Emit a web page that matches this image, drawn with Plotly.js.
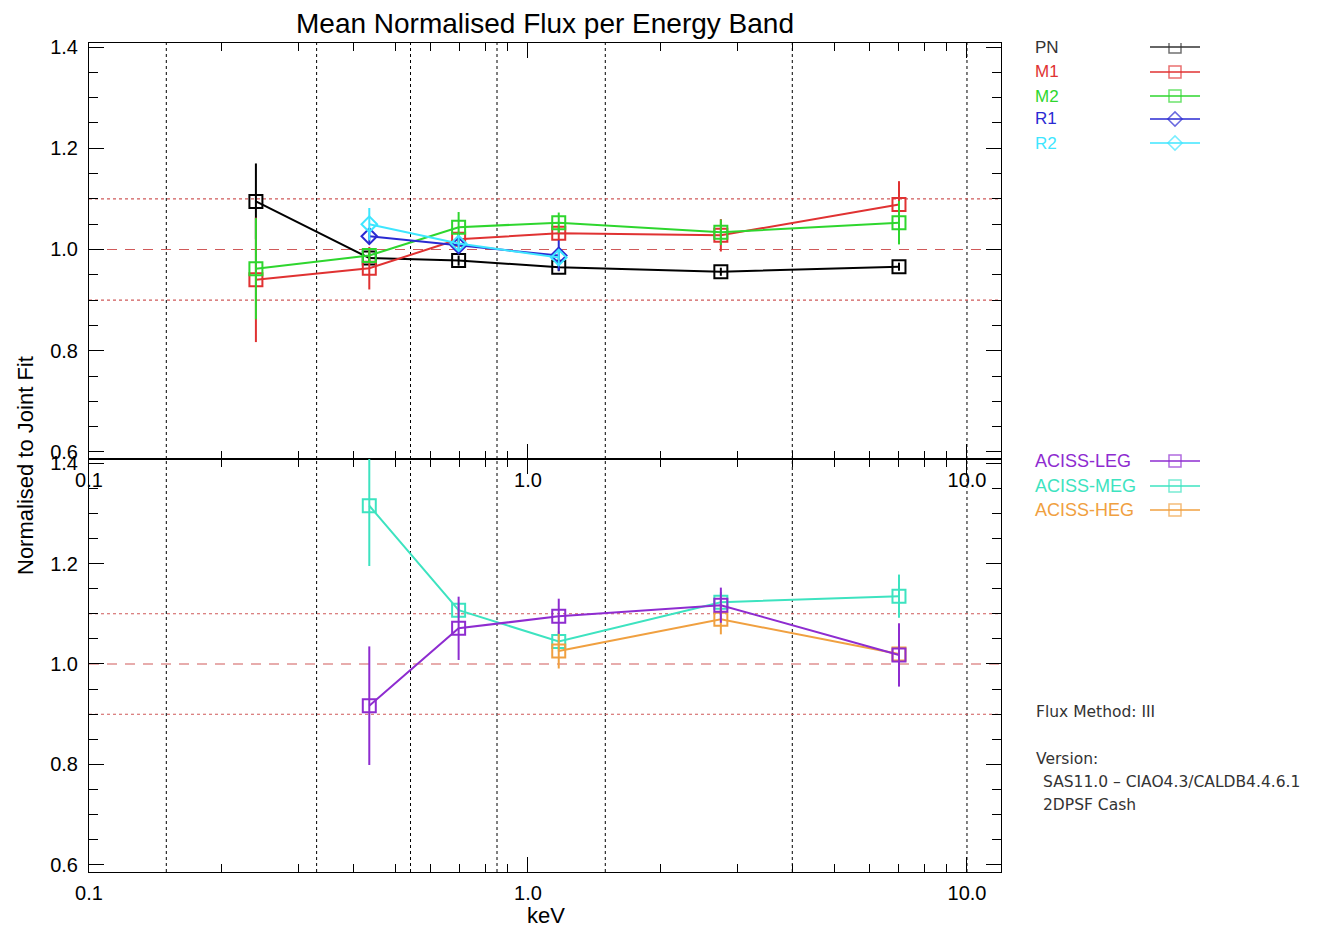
<!DOCTYPE html>
<html><head><meta charset="utf-8">
<script src="https://cdn.plot.ly/plotly-3.0.1.min.js"></script>
<style>body{margin:0;background:#fff}#chart{width:1328px;height:928px}</style>
</head><body><div id="chart"></div>
<script>
// ---- data ----
const energy = [0.24, 0.435, 0.695, 1.175, 2.75, 7.0];
const bandEdges = [0.15, 0.33, 0.54, 0.85, 1.5, 4.0, 10.0];

const pnFlux = [1.095, 0.983, 0.978, 0.965, 0.956, 0.966];
const pnErr  = [0.075, 0.010, 0.010, 0.008, 0.008, 0.008];
const m1Flux = [0.940, 0.963, 1.020, 1.032, 1.028, 1.089];
const m1Err  = [0.123, 0.042, 0.015, 0.015, 0.032, 0.046];
const m2Flux = [0.962, 0.988, 1.044, 1.053, 1.034, 1.053];
const m2Err  = [0.100, 0.015, 0.030, 0.020, 0.025, 0.043];
const rgsEnergy = [0.435, 0.695, 1.175];
const r1Flux = [1.026, 1.008, 0.988];
const r1Err  = [0.015, 0.010, 0.030];
const r2Flux = [1.050, 1.012, 0.984];
const r2Err  = [0.032, 0.015, 0.015];

const acisEnergy = [0.435, 0.695, 1.175, 2.75, 7.0];
const legFlux = [0.917, 1.071, 1.095, 1.117, 1.018];
const legErr  = [0.118, 0.063, 0.035, 0.035, 0.063];
const megFlux = [1.315, 1.107, 1.045, 1.123, 1.135];
const megErr  = [0.120, 0.015, 0.020, 0.020, 0.043];
const hegEnergy = [1.175, 2.75, 7.0];
const hegFlux = [1.026, 1.089, 1.020];
const hegErr  = [0.035, 0.030, 0.060];

const refLevels = [0.9, 1.0, 1.1];
const xTickVals = [0.1, 1, 10];
const xTickText = ['0.1', '1.0', '10.0'];
const xMinor = [0.2,0.3,0.4,0.5,0.6,0.7,0.8,0.9,2,3,4,5,6,7,8,9];

const topSeries = [
  {name:'PN', x:energy, y:pnFlux, e:pnErr, color:'#000000', sym:'square-open'},
  {name:'M1', x:energy, y:m1Flux, e:m1Err, color:'#e03232', sym:'square-open'},
  {name:'M2', x:energy, y:m2Flux, e:m2Err, color:'#2ed62e', sym:'square-open'},
  {name:'R1', x:rgsEnergy, y:r1Flux, e:r1Err, color:'#2a2ad2', sym:'diamond-open'},
  {name:'R2', x:rgsEnergy, y:r2Flux, e:r2Err, color:'#3ee6ff', sym:'diamond-open'}
];
const botSeries = [
  {name:'ACISS-MEG', x:acisEnergy, y:megFlux, e:megErr, color:'#3de3c0', sym:'square-open'},
  {name:'ACISS-HEG', x:hegEnergy, y:hegFlux, e:hegErr, color:'#f0a040', sym:'square-open'},
  {name:'ACISS-LEG', x:acisEnergy, y:legFlux, e:legErr, color:'#8e2cd0', sym:'square-open'}
];
const botLegendOrder = ['ACISS-LEG', 'ACISS-MEG', 'ACISS-HEG'];

// ---- traces ----
const traces = [];
function addSeries(s, xa, ya) {
  traces.push({
    type:'scatter', mode:'lines+markers', x:s.x, y:s.y, xaxis:xa, yaxis:ya,
    line:{color:s.color, width:2},
    marker:{symbol:s.sym, size:s.sym==='diamond-open'?12:13, color:s.color, line:{width:2, color:s.color}},
    error_y:{type:'data', array:s.e, visible:true, color:s.color, thickness:2, width:0},
    showlegend:false, hoverinfo:'skip'
  });
}
topSeries.forEach(s => addSeries(s, 'x', 'y'));
botSeries.forEach(s => addSeries(s, 'x2', 'y2'));

// pixel helpers for paper coordinates (plot area: x 89..1328, y 43..872)
const PX = px => (px - 89) / 1239;
const PY = py => (872 - py) / 829;

// legend glyphs on a pixel overlay axis (x3/y3)
const legGlyphX = [1150, 1175, 1200];
const topLegY = [47, 72, 96, 119, 143];
const botLegY = [461, 486, 510];
const annotations = [];
const legFont = 'Liberation Sans, Arial, sans-serif';
function legendItem(name, color, sym, yPix, fs) {
  traces.push({
    type:'scatter', mode:'lines+markers', x:legGlyphX, y:[yPix,yPix,yPix], xaxis:'x3', yaxis:'y3',
    line:{color:color, width:1.5},
    marker:{symbol:sym, size:[0, sym==='diamond-open'?11:12, 0], color:color, line:{width:1.5, color:color}},
    showlegend:false, hoverinfo:'skip'
  });
  annotations.push({xref:'paper', yref:'paper', x:PX(1033), y:PY(yPix), text:name, showarrow:false,
    xanchor:'left', yanchor:'middle', font:{family:legFont, size:fs, color:color}});
}
topSeries.forEach((s,i) => legendItem(s.name, s.color === '#000000' ? '#333333' : s.color, s.sym, topLegY[i], 17));
botLegendOrder.forEach((n,i) => { const s = botSeries.find(b => b.name === n); legendItem(s.name, s.color, s.sym, botLegY[i], 18); });

// text block
const infoFont = {family:'DejaVu Sans, Liberation Sans, sans-serif', size:15.5, color:'#333333'};
[['Flux Method: III', 1034, 712], ['Version:', 1034, 759],
 ['SAS11.0 \u2013 CIAO4.3/CALDB4.4.6.1', 1041, 782], ['2DPSF Cash', 1041, 805]].forEach(t => {
  annotations.push({xref:'paper', yref:'paper', x:PX(t[1]), y:PY(t[2]), text:t[0], showarrow:false,
    xanchor:'left', yanchor:'middle', font:infoFont});
});
// y title and x title
annotations.push({xref:'paper', yref:'paper', x:PX(26), y:PY(466), text:'Normalised to Joint Fit', textangle:-90,
  showarrow:false, xanchor:'center', yanchor:'middle', font:{family:legFont, size:22, color:'#000'}});
annotations.push({xref:'paper', yref:'paper', x:PX(546), y:PY(915), text:'keV', showarrow:false,
  xanchor:'center', yanchor:'middle', font:{family:legFont, size:22, color:'#000'}});

// ---- shapes ----
const shapes = [];
['y','y2'].forEach((ya, k) => {
  const xa = k === 0 ? 'x' : 'x2';
  bandEdges.forEach(b => shapes.push({type:'line', xref:xa, yref:ya+' domain', x0:b, x1:b, y0:0, y1:1,
    line:{color:'#000', width:1, dash:'dot'}, layer:'below'}));
  refLevels.forEach(r => shapes.push({type:'line', xref:xa+' domain', yref:ya, x0:0, x1:1, y0:r, y1:r,
    line:{color:'#d05a5a', width:1.2, dash: r === 1.0 ? '10px,8px' : 'dot'}, layer:'below'}));
});

const tickFont = {family:'Liberation Sans, Arial, sans-serif', size:20, color:'#000'};
const xdom = [0, 912 / 1239];
const split = 413 / 829;
function xAxis(anchor) {
  return {type:'log', range:[-1, 1.0775], domain:xdom, anchor:anchor,
    tickmode:'array', tickvals:xTickVals, ticktext:xTickText, ticks:'inside', ticklen:15,
    tickcolor:'#000', tickwidth:1, showline:true, linecolor:'#000', linewidth:1, mirror:'ticks',
    showgrid:false, zeroline:false, tickfont:tickFont, ticklabelstandoff:3,
    minor:{tickmode:'array', tickvals:xMinor, ticks:'inside', ticklen:8, tickcolor:'#000', showgrid:false}};
}
function yAxis(anchor, dom) {
  return {range:[0.586, 1.408], domain:dom, anchor:anchor, tickmode:'linear', tick0:0.6, dtick:0.2,
    tickformat:'.1f', ticks:'inside', ticklen:15, tickcolor:'#000', tickwidth:1,
    showline:true, linecolor:'#000', linewidth:1, mirror:'ticks', showgrid:false, zeroline:false,
    tickfont:tickFont, ticklabelstandoff:6,
    minor:{dtick:0.05, ticks:'inside', ticklen:9, tickcolor:'#000', showgrid:false}};
}

const layout = {
  width:1328, height:928, paper_bgcolor:'#fff', plot_bgcolor:'rgba(0,0,0,0)',
  margin:{l:89, r:0, t:43, b:56},
  title:{text:'Mean Normalised Flux per Energy Band', x:545/1328, xanchor:'center', y:1-23/928, yanchor:'middle',
    font:{family:'Liberation Sans, Arial, sans-serif', size:28, color:'#000'}},
  xaxis:xAxis('y'),
  yaxis:yAxis('x', [split, 1]),
  xaxis2:xAxis('y2'),
  yaxis2:yAxis('x2', [0, split]),
  xaxis3:{domain:[0,1], range:[89,1328], visible:false, anchor:'y3', fixedrange:true},
  yaxis3:{domain:[0,1], range:[872,43], visible:false, anchor:'x3', fixedrange:true},
  shapes:shapes, annotations:annotations, showlegend:false
};

Plotly.newPlot('chart', traces, layout, {displayModeBar:false, staticPlot:true});
</script></body></html>
